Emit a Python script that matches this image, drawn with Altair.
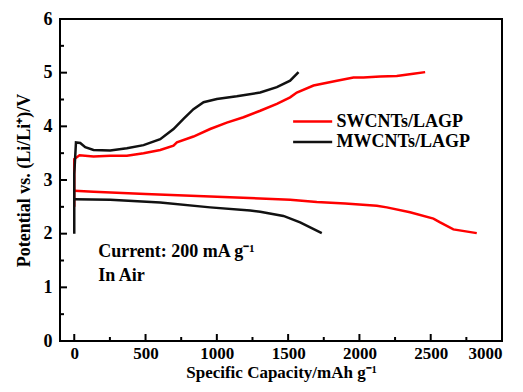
import altair as alt
import pandas as pd

# ---- data ----
sw_charge_x = [0, 0, 37, 135, 252, 369, 486, 603, 696, 720, 836, 953, 1070, 1187, 1304, 1421, 1514, 1561, 1678, 1842, 1958, 2028, 2145, 2262, 2378, 2461]
sw_charge_y = [2.50, 3.39, 3.46, 3.44, 3.45, 3.45, 3.50, 3.56, 3.64, 3.70, 3.81, 3.95, 4.07, 4.17, 4.29, 4.42, 4.54, 4.63, 4.76, 4.85, 4.91, 4.91, 4.93, 4.94, 4.98, 5.01]
sw_dis_x = [0, 135, 500, 1000, 1514, 1701, 1900, 2122, 2192, 2355, 2519, 2566, 2659, 2823]
sw_dis_y = [2.80, 2.78, 2.74, 2.69, 2.63, 2.59, 2.56, 2.52, 2.49, 2.40, 2.28, 2.21, 2.08, 2.01]
mw_charge_x = [0, 0, 12, 42, 77, 135, 252, 369, 486, 603, 696, 766, 836, 907, 1000, 1140, 1304, 1421, 1514, 1573]
mw_charge_y = [2.00, 3.11, 3.70, 3.69, 3.61, 3.56, 3.55, 3.59, 3.65, 3.76, 3.95, 4.14, 4.32, 4.45, 4.51, 4.56, 4.63, 4.73, 4.85, 5.01]
mw_dis_x = [0, 252, 603, 953, 1234, 1304, 1467, 1584, 1736]
mw_dis_y = [2.64, 2.63, 2.58, 2.49, 2.43, 2.41, 2.33, 2.21, 2.01]

series_names = ["SWCNTs/LAGP", "MWCNTs/LAGP"]
series_colors = ["#ff0000", "#111111"]

x_major = [0, 500, 1000, 1500, 2000, 2500, 3000]
x_minor = [250, 750, 1250, 1750, 2250, 2750]
y_major = [0, 1, 2, 3, 4, 5, 6]
y_minor = [0.5, 1.5, 2.5, 3.5, 4.5, 5.5]

annot_text = ["Current: 200 mA g\u207b\u00b9", "In Air"]
annot_x = [168, 168]
annot_y = [1.56, 1.11]

# legend anchor positions (data units)
legend_x1 = [1535, 1535]
legend_x2 = [1809, 1809]
legend_tx = [1840, 1840]
legend_y = [4.09, 3.71]

# ---- build tables ----
rows = []
def add(xs_, ys_, name, seg):
    for i, (a, b) in enumerate(zip(xs_, ys_)):
        rows.append({"x": a, "y": b, "series": name, "seg": seg, "i": i})
add(sw_charge_x, sw_charge_y, series_names[0], "swc")
add(sw_dis_x, sw_dis_y, series_names[0], "swd")
add(mw_charge_x, mw_charge_y, series_names[1], "mwc")
add(mw_dis_x, mw_dis_y, series_names[1], "mwd")
df = pd.DataFrame(rows)
leg = pd.DataFrame({"series": series_names, "x1": legend_x1, "x2": legend_x2,
                    "tx": legend_tx, "y": legend_y})

W, H = 442, 322
FONT = "Liberation Serif"
xs = alt.Scale(domain=[-100, 3000], nice=False, zero=False)
ys = alt.Scale(domain=[0, 6], nice=False, zero=False)
cs = alt.Scale(domain=series_names, range=series_colors)

lines = alt.Chart(df).mark_line(strokeWidth=2.5, clip=True).encode(
    x=alt.X("x:Q", scale=xs, axis=alt.Axis(
        title="Specific Capacity/mAh g\u207b\u00b9", values=x_major, format="d", ticks=False, domain=False,
        labelPadding=4, labelFontSize=17, titlePadding=3, titleFontSize=17)),
    y=alt.Y("y:Q", scale=ys, axis=alt.Axis(
        title="Potential vs. (Li/Li\u207a)/V", values=y_major, format="d", ticks=False, domain=False,
        labelPadding=8, titlePadding=10)),
    color=alt.Color("series:N", scale=cs, legend=None),
    detail="seg:N",
    order="i:Q",
)

def ticks(vals, axis, length):
    d = pd.DataFrame({"v": vals})
    if axis == "x":
        return alt.Chart(d).mark_rule(color="black", strokeWidth=2).encode(
            x=alt.X("v:Q", scale=xs), y=alt.value(H), y2=alt.value(H - length))
    return alt.Chart(d).mark_rule(color="black", strokeWidth=2).encode(
        y=alt.Y("v:Q", scale=ys), x=alt.value(0), x2=alt.value(length))

leg_lines = alt.Chart(leg).mark_rule(strokeWidth=2.5).encode(
    x=alt.X("x1:Q", scale=xs), x2="x2:Q", y=alt.Y("y:Q", scale=ys),
    color=alt.Color("series:N", scale=cs, legend=None))
leg_text = alt.Chart(leg).mark_text(
    align="left", baseline="middle", font=FONT, fontSize=18, fontWeight="bold", color="black"
).encode(x=alt.X("tx:Q", scale=xs), y=alt.Y("y:Q", scale=ys), text="series:N")

annot = alt.Chart(pd.DataFrame({"t": annot_text, "x": annot_x, "y": annot_y})).mark_text(
    align="left", baseline="alphabetic", font=FONT, fontSize=18, fontWeight="bold", color="black"
).encode(x=alt.X("x:Q", scale=xs), y=alt.Y("y:Q", scale=ys), text="t:N")

chart = alt.layer(
    lines,
    ticks(x_major, "x", 7), ticks(x_minor, "x", 4),
    ticks(y_major, "y", 7), ticks(y_minor, "y", 4),
    leg_lines, leg_text, annot,
).properties(
    width=W, height=H, autosize="none", background="white",
    padding={"left": 52, "top": 11, "right": 13, "bottom": 43},
).configure_view(stroke="black", strokeWidth=2).configure_axis(
    grid=False, labelFont=FONT, labelFontSize=18, labelFontWeight="bold", labelColor="black",
    titleFont=FONT, titleFontSize=18, titleFontWeight="bold", titleColor="black",
)

chart.save("out.html", embed_options={"renderer": "svg", "actions": False})
